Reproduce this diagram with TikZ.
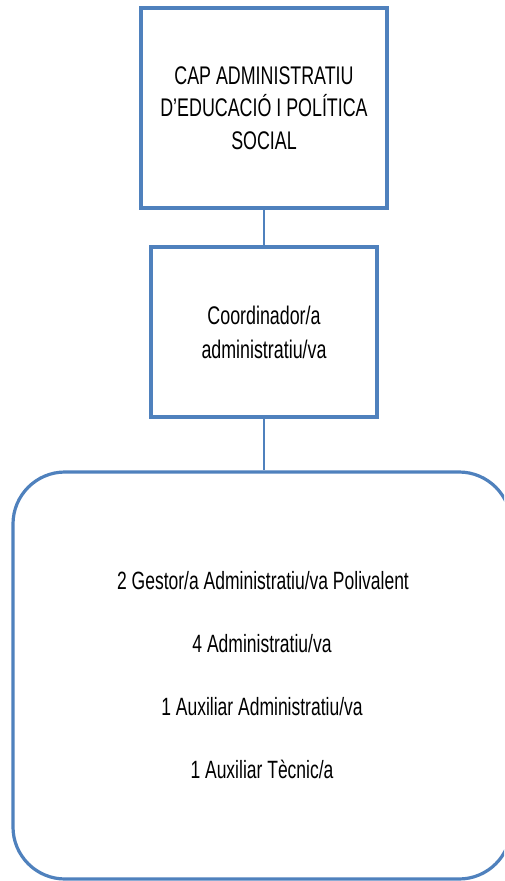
\documentclass[tikz,border=0pt]{standalone}
\usepackage{fontspec}
\setmainfont{Liberation Sans}[FakeStretch=0.7]
\definecolor{boxblue}{HTML}{4F81BD}
\begin{document}
\begin{tikzpicture}[x=1pt,y=-1pt,
  orgbox/.style={draw=boxblue, line width=3.2pt, fill=white, align=center, inner sep=0pt},
  conn/.style={draw=boxblue, line width=1.4pt}]
\clip (0,0) rectangle (504,881);
\fill[white] (0,0) rectangle (504,881);
\node[orgbox, minimum width=246pt, minimum height=200pt,
  font=\fontsize{25.5}{32.5}\selectfont] (top) at (264,108)
  {CAP ADMINISTRATIU\\D'EDUCACIÓ I POLÍTICA\\SOCIAL};
\node[orgbox, minimum width=226pt, minimum height=170pt,
  font=\fontsize{25.5}{34}\selectfont] (mid) at (264,332)
  {Coordinador/a\\administratiu/va};
\node[orgbox, rounded corners=52pt, minimum width=498pt, minimum height=407pt,
  font=\fontsize{25}{63}\selectfont] (bot) at (262,675.5)
  {\hspace*{2pt}2 Gestor/a Administratiu/va Polivalent\\4 Administratiu/va\\1 Auxiliar Administratiu/va\\1 Auxiliar Tècnic/a};
\draw[conn] (top.south) -- (mid.north);
\draw[conn] (mid.south) -- (mid.south |- bot.north);
\end{tikzpicture}
\end{document}
